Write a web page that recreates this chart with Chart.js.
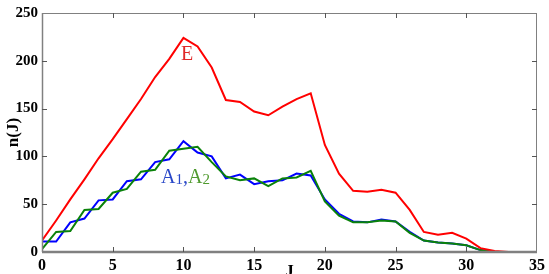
<!DOCTYPE html>
<html>
<head>
<meta charset="utf-8">
<script src="https://cdn.jsdelivr.net/npm/chart.js@4.4.0/dist/chart.umd.min.js"></script>
<style>
  html, body { margin: 0; padding: 0; background: #ffffff; }
  #wrap { width: 549px; height: 274px; position: relative; }
</style>
</head>
<body>
<div id="wrap"><canvas id="c" width="549" height="274"></canvas></div>
<script>
// ---- data ----
const jE  = [0,1,2,3,4,5,6,7,8,9,10,11,12,13,14,15,16,17,18,19,20,21,22,23,24,25,26,27,28,29,30,31,32,33];
const valE = [12,33,55,76,98,118,139,160,183,202,224,215,193,159,157,147,143,152,160,166,112,82,64,63,65,62,44,21,18,20,14,4,1,0];
const jA  = [0,1,2,3,4,5,6,7,8,9,10,11,12,13,14,15,16,17,18,19,20,21,22,23,24,25,26,27,28,29,30,31,32];
const valA1 = [11,11,31,35,54,55,74,76,94,97,116,104,100,77,81,71,74,75,82,80,55,40,32,31,34,32,21,12,10,9,7,2,0];
const valA2 = [3,21,22,44,45,62,66,84,86,106,108,110,94,79,75,77,69,77,78,85,53,38,31,31,33,32,20,12,10,9,7,2,0];
const xTicks = [0,5,10,15,20,25,30,35];
const yTicks = [0,50,100,150,200,250];
const xTitle = 'J';
const yTitle = 'n(J)';

const pts = (xs, ys) => xs.map((x, i) => ({x: x, y: ys[i]}));

const SERIF = '"Liberation Serif", "Times New Roman", serif';

const framePlugin = {
  id: 'frame',
  afterDraw(chart) {
    const ctx = chart.ctx;
    const a = chart.chartArea;
    const xs = chart.scales.x, ys = chart.scales.y;
    ctx.save();
    // box
    ctx.strokeStyle = '#808080';
    ctx.lineWidth = 1;
    ctx.beginPath();
    ctx.moveTo(a.left, a.top + 0.5); ctx.lineTo(a.right, a.top + 0.5);
    ctx.moveTo(a.right - 0.5, a.top); ctx.lineTo(a.right - 0.5, a.bottom);
    ctx.stroke();
    ctx.lineWidth = 1.5;
    ctx.beginPath();
    ctx.moveTo(a.left + 0.5, a.top); ctx.lineTo(a.left + 0.5, a.bottom);
    ctx.stroke();
    ctx.lineWidth = 2.5;
    ctx.beginPath();
    ctx.moveTo(a.left, a.bottom); ctx.lineTo(a.right, a.bottom);
    ctx.stroke();
    // inward ticks
    ctx.strokeStyle = '#555555';
    ctx.lineWidth = 1;
    const L = 5;
    ctx.beginPath();
    xTicks.forEach(v => {
      const px = Math.round(xs.getPixelForValue(v)) + 0.5;
      if (v > 0 && v < 35) {
        ctx.moveTo(px, a.bottom); ctx.lineTo(px, a.bottom - L);
        ctx.moveTo(px, a.top); ctx.lineTo(px, a.top + L);
      }
    });
    yTicks.forEach(v => {
      const py = Math.round(ys.getPixelForValue(v)) + 0.5;
      if (v > 0 && v < 250) {
        ctx.moveTo(a.left, py); ctx.lineTo(a.left + L, py);
        ctx.moveTo(a.right, py); ctx.lineTo(a.right - L, py);
      }
    });
    ctx.stroke();

    // axis titles
    ctx.fillStyle = '#000000';
    ctx.font = 'bold 17px ' + SERIF;
    ctx.textAlign = 'center';
    ctx.textBaseline = 'alphabetic';
    ctx.fillText(xTitle, (a.left + a.right) / 2, 276);
    ctx.save();
    ctx.translate(18, (a.top + a.bottom) / 2);
    ctx.rotate(-Math.PI / 2);
    ctx.fillText(yTitle, 0, 0);
    ctx.restore();

    // series labels
    ctx.textAlign = 'left';
    ctx.font = '20px ' + SERIF;
    ctx.fillStyle = '#e02828';
    ctx.fillText('E', 181, 60);

    let x = 161;
    const base = 183;
    ctx.fillStyle = '#2a48c8';
    ctx.font = '20px ' + SERIF;
    ctx.fillText('A', x, base); x += ctx.measureText('A').width;
    ctx.font = '15px ' + SERIF;
    ctx.fillText('1', x, base + 1); x += ctx.measureText('1').width;
    ctx.font = '20px ' + SERIF;
    ctx.fillText(',', x, base); x += ctx.measureText(',').width;
    ctx.fillStyle = '#4f9a2e';
    ctx.fillText('A', x, base); x += ctx.measureText('A').width;
    ctx.font = '15px ' + SERIF;
    ctx.fillText('2', x, base + 1);
    ctx.restore();
  }
};

new Chart(document.getElementById('c'), {
  type: 'line',
  data: {
    datasets: [
      { label: 'E', data: pts(jE, valE), borderColor: '#ff0000', borderWidth: 2, pointRadius: 0, tension: 0, fill: false },
      { label: 'A2', data: pts(jA, valA2), borderColor: '#0a820a', borderWidth: 2, pointRadius: 0, tension: 0, fill: false },
      { label: 'A1', data: pts(jA, valA1), borderColor: '#0000ff', borderWidth: 2, pointRadius: 0, tension: 0, fill: false }
    ]
  },
  options: {
    responsive: false,
    animation: false,
    devicePixelRatio: 1,
    layout: { padding: { top: 7, right: 9.5, left: 0, bottom: 0 } },
    plugins: { legend: { display: false }, tooltip: { enabled: false } },
    scales: {
      x: {
        type: 'linear', min: 0, max: 35,
        afterFit(s) { s.height = 22; },
        grid: { display: false, drawTicks: false },
        border: { display: false },
        afterBuildTicks(s) { s.ticks = xTicks.map(v => ({value: v})); },
        ticks: { color: '#000', padding: 4, maxRotation: 0, font: { family: SERIF, size: 16, weight: 'bold' } }
      },
      y: {
        type: 'linear', min: 0, max: 250,
        afterFit(s) { s.width = 42; },
        grid: { display: false, drawTicks: false },
        border: { display: false },
        afterBuildTicks(s) { s.ticks = yTicks.map(v => ({value: v})); },
        ticks: { color: '#000', padding: 4, font: { family: SERIF, size: 15, weight: 'bold' } }
      }
    }
  },
  plugins: [framePlugin]
});
</script>
</body>
</html>
